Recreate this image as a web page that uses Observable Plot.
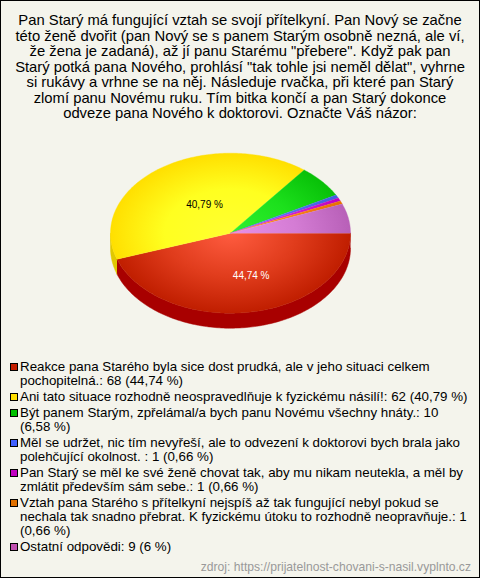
<!DOCTYPE html>
<html>
<head>
<meta charset="utf-8">
<script src="https://cdn.jsdelivr.net/npm/d3@7"></script>
<script src="https://cdn.jsdelivr.net/npm/@observablehq/plot@0.6"></script>
<style>
html,body{margin:0;padding:0;background:#fff}
#frame{position:relative;box-sizing:border-box;width:480px;height:578px;border:1px solid #000;background:#f4f4ec;overflow:hidden;font-family:"Liberation Sans",Arial,sans-serif;color:#000}
#title{position:absolute;left:0;right:0;top:12px;text-align:center;font-size:14.8px;line-height:15.5px;white-space:pre-line}
#chart{position:absolute;left:-1px;top:129px;width:480px;height:220px}
#chart svg{display:block;background:transparent}
#legend{position:absolute;left:6px;right:7px;top:359px;font-size:13.33px;line-height:14px}
.row{position:relative;padding-left:13px;margin-bottom:2px}
.key{position:absolute;left:3px;top:3px;width:6px;height:6px;border:1px solid #000}
#source{position:absolute;right:8px;top:559px;font-size:12.13px;color:#999}
</style>
</head>
<body>
<div id="frame">
<div id="title"></div>
<div id="chart"></div>
<div id="legend"></div>
<div id="source"></div>
</div>
<script>
const titleLines = [
  "Pan Starý má fungující vztah se svojí přítelkyní. Pan Nový se začne",
  "této ženě dvořit (pan Nový se s panem Starým osobně nezná, ale ví,",
  "že žena je zadaná), až jí panu Starému \"přebere\". Když pak pan",
  "Starý potká pana Nového, prohlásí \"tak tohle jsi neměl dělat\", vyhrne",
  "si rukávy a vrhne se na něj. Následuje rvačka, při které pan Starý",
  "zlomí panu Novému ruku. Tím bitka končí a pan Starý dokonce",
  "odveze pana Nového k doktorovi. Označte Váš názor:"
];
const sourceText = "zdroj: https://prijatelnost-chovani-s-nasil.vyplnto.cz";
const answers = [
  "Reakce pana Starého byla sice dost prudká, ale v jeho situaci celkem pochopitelná.: 68 (44,74 %)",
  "Ani tato situace rozhodně neospravedlňuje k fyzickému násilí!: 62 (40,79 %)",
  "Být panem Starým, zpřelámal/a bych panu Novému všechny hnáty.: 10 (6,58 %)",
  "Měl se udržet, nic tím nevyřeší, ale to odvezení k doktorovi bych brala jako polehčující okolnost. : 1 (0,66 %)",
  "Pan Starý se měl ke své ženě chovat tak, aby mu nikam neutekla, a měl by zmlátit především sám sebe.: 1 (0,66 %)",
  "Vztah pana Starého s přítelkyní nejspíš až tak fungující nebyl pokud se nechala tak snadno přebrat. K fyzickému útoku to rozhodně neopravňuje.: 1 (0,66 %)",
  "Ostatní odpovědi: 9 (6 %)"
];
const counts = [68, 62, 10, 1, 1, 1, 9];
const percentLabels = ["44,74 %", "40,79 %", "", "", "", "", ""];
const keyColors = ["#c41e00", "#ffdf00", "#00c000", "#4060ff", "#c000c0", "#e07000", "#c050b0"];
const centerColors = ["#ff5c40", "#ffff30", "#30f030", "#6080ff", "#e040e0", "#ff9020", "#e890e8"];
const midColors = ["#e03c1c", "#ffff20", "#1ce01c", "#5070f0", "#d020d0", "#f88018", "#d47cd4"];
const edgeColors = ["#c01e00", "#ffdf00", "#08c008", "#4060e0", "#c000c0", "#e87000", "#b860b8"];
const sideColors = ["#a80000", "#e0c800", "#08a008", "#3050c0", "#a000a0", "#c06000", "#a050a0"];

// layout constants
const W = 480, H = 220, RX = 120, RY = 80, DEPTH = 15 / RY, CX = 230, CY = 102.7;
const labelRadius = [0.54, 0.43];
const labelShift = [10, 4];

document.getElementById("title").textContent = titleLines.join("\n");
document.getElementById("source").textContent = sourceText;
const legend = document.getElementById("legend");
answers.forEach((t, i) => {
  const r = document.createElement("div"); r.className = "row";
  const k = document.createElement("span"); k.className = "key"; k.style.background = keyColors[i];
  r.appendChild(k); r.appendChild(document.createTextNode(t));
  legend.appendChild(r);
});

const total = d3.sum(counts);
let acc = 0;
const slices = counts.map((v, i) => {
  const a0 = acc / total * 2 * Math.PI; acc += v; const a1 = acc / total * 2 * Math.PI;
  return {i, a0, a1, mid: (a0 + a1) / 2, label: percentLabels[i]};
});
function arcPts(a0, a1, dy = 0) {
  const n = Math.max(2, Math.ceil((a1 - a0) / (Math.PI / 180)));
  return d3.range(n + 1).map(k => {
    const a = a0 + (a1 - a0) * k / n;
    return {x: Math.cos(a), y: Math.sin(a) + dy};
  });
}
const sideMarks = slices.filter(s => s.a0 < Math.PI).map(s => {
  const a1 = Math.min(s.a1, Math.PI);
  const pts = [...arcPts(s.a0, a1), ...arcPts(s.a0, a1, DEPTH).reverse()];
  return Plot.line(pts, {x: "x", y: "y", fill: sideColors[s.i], stroke: sideColors[s.i], strokeWidth: 0.5});
});
const topMarks = slices.map(s => {
  const pts = [{x: 0, y: 0}, ...arcPts(s.a0, s.a1)];
  return Plot.line(pts, {x: "x", y: "y", fill: `url(#g${s.i})`, stroke: `url(#g${s.i})`, strokeWidth: 0.4});
});
const labelData = slices.filter(s => s.label).map((s, j) => ({
  x: Math.cos(s.mid) * labelRadius[j] + labelShift[j] / RX,
  y: Math.sin(s.mid) * labelRadius[j],
  label: s.label,
  color: s.i === 0 ? "#fff" : "#000"
}));
const plot = Plot.plot({
  width: W, height: H, margin: 0,
  x: {domain: [-CX / RX, (W - CX) / RX], axis: null},
  y: {domain: [(H - CY) / RY, -CY / RY], axis: null},
  style: {background: "transparent"},
  marks: [
    ...sideMarks,
    ...topMarks,
    Plot.text(labelData, {x: "x", y: "y", text: "label", fill: "color", fontSize: 10, fontFamily: "Liberation Sans, Arial, sans-serif"})
  ]
});
const ns = "http://www.w3.org/2000/svg";
const defs = document.createElementNS(ns, "defs");
const px = plot.scale("x").apply(0), py = plot.scale("y").apply(0);
slices.forEach(s => {
  const g = document.createElementNS(ns, "radialGradient");
  g.setAttribute("id", "g" + s.i);
  g.setAttribute("gradientUnits", "userSpaceOnUse");
  g.setAttribute("cx", 0); g.setAttribute("cy", 0); g.setAttribute("r", 1);
  g.setAttribute("gradientTransform", `translate(${px},${py}) scale(${RX},${RY})`);
  [[0, centerColors[s.i]], [0.55, midColors[s.i]], [1, edgeColors[s.i]]].forEach(([o, c]) => {
    const st = document.createElementNS(ns, "stop");
    st.setAttribute("offset", o); st.setAttribute("stop-color", c);
    g.appendChild(st);
  });
  defs.appendChild(g);
});
plot.insertBefore(defs, plot.firstChild);
document.getElementById("chart").appendChild(plot);
</script>
</body>
</html>
